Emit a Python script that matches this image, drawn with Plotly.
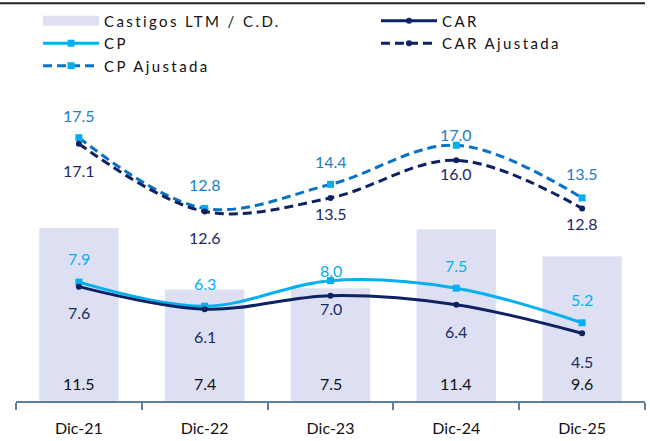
import plotly.graph_objects as go

categories = ["Dic-21", "Dic-22", "Dic-23", "Dic-24", "Dic-25"]
castigos = [11.5, 7.4, 7.5, 11.4, 9.6]
car = [7.6, 6.1, 7.0, 6.4, 4.5]
cp = [7.9, 6.3, 8.0, 7.5, 5.2]
car_aj = [17.1, 12.6, 13.5, 16.0, 12.8]
cp_aj = [17.5, 12.8, 14.4, 17.0, 13.5]

# label offsets (pixels, style only)
OFF_BAR = [18, 18, 18, 18, 18]
OFF_CAR = [-26, -27, -13, -27, -28]
OFF_CP = [24, 23, 10, 23, 23]
OFF_CAR_AJ = [-27, -26, -16, -13, -15]
OFF_CP_AJ = [22, 24, 23, 11, 24]

FONT = "Lato"
BAR_C = "#DCE0F2"
NAVY = "#0E2163"
LIGHT = "#00B0F0"
MID = "#0A72C6"

fig = go.Figure()

fig.add_trace(go.Bar(x=categories, y=castigos, marker_color=BAR_C, showlegend=False,
                     hoverinfo="skip"))
fig.add_trace(go.Scatter(x=[None], y=[None], mode="lines", name="Castigos LTM / C.D.",
                         line=dict(color=BAR_C, width=10), legend="legend"))
fig.add_trace(go.Scatter(x=categories, y=cp, name="CP", mode="lines+markers", legend="legend",
                         line=dict(color=LIGHT, width=3, shape="spline", smoothing=1),
                         marker=dict(symbol="square", size=7, color=LIGHT)))
fig.add_trace(go.Scatter(x=categories, y=cp_aj, name="CP Ajustada", mode="lines+markers",
                         legend="legend",
                         line=dict(color=MID, width=3, dash="9px,5px", shape="spline", smoothing=1),
                         marker=dict(symbol="square", size=7, color=LIGHT)))
fig.add_trace(go.Scatter(x=categories, y=car, name="CAR", mode="lines+markers", legend="legend2",
                         line=dict(color=NAVY, width=3, shape="spline", smoothing=1),
                         marker=dict(symbol="circle", size=6, color=NAVY)))
fig.add_trace(go.Scatter(x=categories, y=car_aj, name="CAR Ajustada", mode="lines+markers",
                         legend="legend2",
                         line=dict(color=NAVY, width=3, dash="9px,5px", shape="spline", smoothing=1),
                         marker=dict(symbol="circle", size=6, color=NAVY)))

annotations = []
def add_labels(vals, color, shifts, at_base=False):
    for c, v, s in zip(categories, vals, shifts):
        annotations.append(dict(x=c, y=(0 if at_base else v), text=f"{v:.1f}",
                                showarrow=False, yanchor="middle", yshift=s,
                                font=dict(family=FONT, size=16, color=color)))

add_labels(castigos, "#111111", OFF_BAR, at_base=True)
add_labels(car, "#1A2A66", OFF_CAR)
add_labels(cp, LIGHT, OFF_CP)
add_labels(car_aj, "#1A2A66", OFF_CAR_AJ)
add_labels(cp_aj, "#1E7BC8", OFF_CP_AJ)

leg_common = dict(orientation="v", xanchor="left", yanchor="top", itemwidth=56,
                  font=dict(family=FONT, size=15, color="#111111"),
                  traceorder="normal", bgcolor="rgba(0,0,0,0)", borderwidth=0)

fig.update_layout(
    width=650, height=441,
    margin=dict(l=16, r=5, t=70, b=40),
    paper_bgcolor="white", plot_bgcolor="white",
    barmode="overlay", bargap=0.37,
    font=dict(family=FONT, size=15, color="#111111"),
    annotations=annotations,
    showlegend=True,
    legend=dict(x=0.035, y=1.198, **leg_common),
    legend2=dict(x=0.5723, y=1.198, **leg_common),
    shapes=[dict(type="line", xref="paper", yref="paper", x0=-0.03, x1=1.0,
                 y0=1.202, y1=1.202, line=dict(color="#222222", width=2))],
)
fig.update_xaxes(type="category", showline=True, linecolor="#5B7FA0", linewidth=2,
                 ticks="outside", tickson="boundaries", ticklen=7, tickcolor="#5B7FA0",
                 tickwidth=2, ticklabelstandoff=12, showgrid=False,
                 tickfont=dict(family=FONT, size=16, color="#111111"))
fig.update_yaxes(visible=False, range=[0, 22], showgrid=False)

post = """
document.body.style.margin='0';
var st = document.createElement('style');
st.textContent = 'g[class^="legend"] text, text.legendtext{letter-spacing:2.4px !important;} '
  + 'g[class^="legend"] g.scrollbox{clip-path:none !important;}';
document.head.appendChild(st);
"""
fig.write_html("out.html", post_script=post, config={"displayModeBar": False})
